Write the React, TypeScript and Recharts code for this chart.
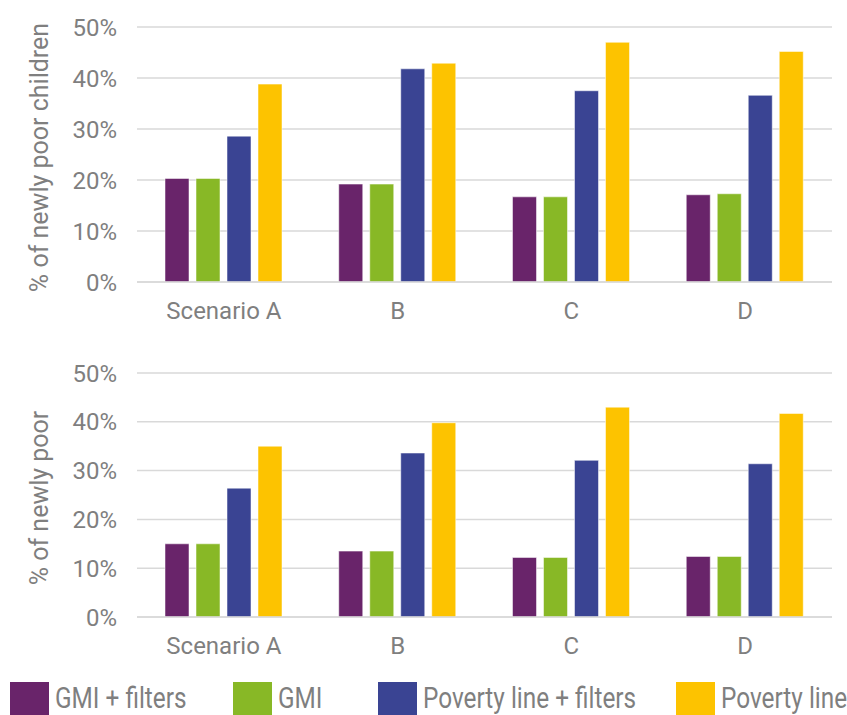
import React from "react";
import { BarChart, Bar, XAxis, YAxis, CartesianGrid, Label } from "recharts";

const scenarios = ["Scenario A", "B", "C", "D"];
const seriesNames = ["GMI + filters", "GMI", "Poverty line + filters", "Poverty line"];
const seriesColors = ["#69246A", "#88B826", "#3A4493", "#FDC300"];
const yTicks = [0, 10, 20, 30, 40, 50];

// share of newly poor children (%)
const childGmiFilters = [20.3, 19.2, 16.7, 17.1];
const childGmi = [20.3, 19.2, 16.7, 17.3];
const childPovFilters = [28.6, 41.8, 37.5, 36.6];
const childPov = [38.8, 42.9, 47.0, 45.2];

// share of newly poor (%)
const allGmiFilters = [15.0, 13.5, 12.2, 12.4];
const allGmi = [15.0, 13.5, 12.2, 12.4];
const allPovFilters = [26.4, 33.6, 32.1, 31.4];
const allPov = [35.0, 39.8, 43.0, 41.7];

const FONT = "Roboto, 'Liberation Sans', sans-serif";
const TEXT = "#7f7f7f";
const GRID = "#d9d9d9";

const keys = ["s0", "s1", "s2", "s3"];

const buildRows = (series: number[][]) =>
  scenarios.map((name, i) => {
    const row: Record<string, string | number> = { name };
    series.forEach((vals, s) => {
      row[keys[s]] = vals[i];
    });
    return row;
  });

const childRows = buildRows([childGmiFilters, childGmi, childPovFilters, childPov]);
const allRows = buildRows([allGmiFilters, allGmi, allPovFilters, allPov]);

const tickStyle = { fontFamily: FONT, fontSize: 24, fill: TEXT };

const AxisTitle = (props: any) => {
  const vb = props.viewBox || {};
  const cx = 39;
  const cy = vb.y + vb.height / 2 + 3;
  return (
    <text
      x={cx}
      y={cy}
      transform={`rotate(-90 ${cx} ${cy})`}
      textAnchor="middle"
      dominantBaseline="central"
      style={{ fontFamily: FONT, fontSize: 25, fill: TEXT }}
    >
      {props.value}
    </text>
  );
};

type PanelProps = {
  rows: Record<string, string | number>[];
  title: string;
  height: number;
  top: number;
  xAxisHeight: number;
};

const Panel: React.FC<PanelProps> = ({ rows, title, height, top, xAxisHeight }) => (
  <BarChart
    width={847}
    height={height}
    data={rows}
    margin={{ top, right: 15, bottom: 0, left: 0 }}
    barGap={7}
    barSize={24}
  >
    <CartesianGrid vertical={false} stroke={GRID} strokeWidth={1.5} />
    <XAxis
      dataKey="name"
      height={xAxisHeight}
      tickLine={false}
      axisLine={{ stroke: GRID, strokeWidth: 1.5 }}
      tick={tickStyle}
      tickMargin={14}
      interval={0}
    />
    <YAxis
      width={137}
      domain={[0, 50]}
      ticks={yTicks}
      tickFormatter={(v) => `${v}%`}
      tickLine={false}
      axisLine={false}
      tick={tickStyle}
      tickMargin={14}
      interval={0}
    >
      <Label value={title} content={<AxisTitle value={title} />} />
    </YAxis>
    {keys.map((k, s) => (
      <Bar
        key={k}
        dataKey={k}
        name={seriesNames[s]}
        fill={seriesColors[s]}
        stroke="rgba(255,255,255,0.5)"
        strokeWidth={1}
        isAnimationActive={false}
      />
    ))}
  </BarChart>
);

const legendLeft = [10, 233, 378, 676];

const App: React.FC = () => (
  <div
    style={{
      position: "absolute",
      left: 0,
      top: 0,
      width: 847,
      height: 715,
      background: "#fff",
      overflow: "hidden",
    }}
  >
    <div style={{ position: "absolute", left: 0, top: 0 }}>
      <Panel rows={childRows} title="% of newly poor children" height={340} top={27} xAxisHeight={58} />
    </div>
    <div style={{ position: "absolute", left: 0, top: 340 }}>
      <Panel rows={allRows} title="% of newly poor" height={330} top={33} xAxisHeight={53} />
    </div>
    {seriesNames.map((name, s) => (
      <div
        key={name}
        style={{
          position: "absolute",
          left: legendLeft[s],
          top: 682,
          display: "flex",
          alignItems: "flex-start",
          whiteSpace: "nowrap",
        }}
      >
        <div style={{ width: 39, height: 33, background: seriesColors[s] }} />
        <span
          style={{
            marginLeft: 6,
            fontFamily: FONT,
            fontSize: 29,
            lineHeight: "33px",
            color: TEXT,
            display: "inline-block",
            transform: "scaleX(0.84)",
            transformOrigin: "left center",
          }}
        >
          {name}
        </span>
      </div>
    ))}
  </div>
);

export default App;
